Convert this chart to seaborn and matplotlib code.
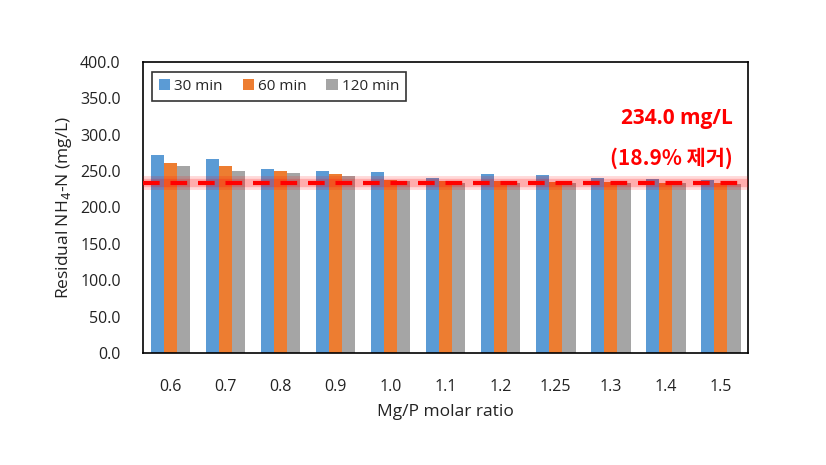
import matplotlib
matplotlib.use("Agg")
import matplotlib.pyplot as plt
import seaborn as sns
import pandas as pd
from matplotlib.ticker import FormatStrFormatter

ratios = ["0.6", "0.7", "0.8", "0.9", "1.0", "1.1", "1.2", "1.25", "1.3", "1.4", "1.5"]
min30 = [272, 267, 252.5, 250, 249, 241, 245.5, 244, 241, 238.5, 237]
min60 = [261.5, 256.5, 250, 246, 238, 236, 236, 235, 235, 234, 234]
min120 = [256.5, 250.5, 247, 243.5, 236, 234, 234, 233, 233, 233, 232]
series = ["30 min", "60 min", "120 min"]
colors = ["#5B9BD5", "#ED7D31", "#A5A5A5"]
ref_value = 234.0
ann1 = "234.0 mg/L"
ann2 = "(18.9% 제거)"

rows = []
for s, vals in zip(series, [min30, min60, min120]):
    for r, v in zip(ratios, vals):
        rows.append({"ratio": r, "series": s, "value": v})
df = pd.DataFrame(rows)

sns.set_style("white")
plt.rcParams["font.family"] = ["Open Sans", "Noto Sans CJK KR", "DejaVu Sans"]

fig = plt.figure(figsize=(8.26, 4.65), dpi=100)
ax = fig.add_axes([0.173, 0.241, 0.733, 0.626])
sns.barplot(data=df, x="ratio", y="value", hue="series", order=ratios,
            hue_order=series, palette=colors, width=0.72, saturation=1,
            edgecolor="none", ax=ax)

ax.set_ylim(0, 400)
ax.set_yticks(range(0, 401, 50))
ax.yaxis.set_major_formatter(FormatStrFormatter("%.1f"))
ax.set_xlim(-0.5, len(ratios) - 0.5)
ax.tick_params(axis="both", length=0, labelsize=11.5, colors="#222222")
ax.tick_params(axis="x", pad=19)
ax.tick_params(axis="y", pad=16)
ax.set_xlabel("Mg/P molar ratio", fontsize=12.5, color="#222222", labelpad=6)
ax.set_ylabel("Residual NH$_4$-N (mg/L)", fontsize=12.5, color="#222222", labelpad=4)
for sp in ax.spines.values():
    sp.set_visible(True)
    sp.set_color("black")
    sp.set_linewidth(1.2)

# glow + dashed line
ax.axhline(ref_value, color="red", lw=10, alpha=0.15, zorder=4)
ax.axhline(ref_value, color="red", lw=6, alpha=0.2, zorder=4)
ax.axhline(ref_value, color="red", lw=3, ls=(0, (4, 2.6)), zorder=5)

ax.text(0.975, 0.805, ann1, transform=ax.transAxes, ha="right", va="center",
        color="red", fontsize=15, fontweight="bold")
ax.text(0.975, 0.67, ann2, transform=ax.transAxes, ha="right", va="center",
        color="red", fontsize=15, fontweight="bold",
        family=["Noto Sans CJK KR", "DejaVu Sans"])

leg = ax.legend(loc="upper left", bbox_to_anchor=(0.01, 0.975), ncol=3,
                frameon=True, fontsize=11, handlelength=0.75, handleheight=0.75,
                columnspacing=1.3, handletextpad=0.25, borderpad=0.45,
                fancybox=False, edgecolor="black", borderaxespad=0.2)
leg.get_frame().set_linewidth(1.2)

fig.savefig("out.png", dpi=100)
